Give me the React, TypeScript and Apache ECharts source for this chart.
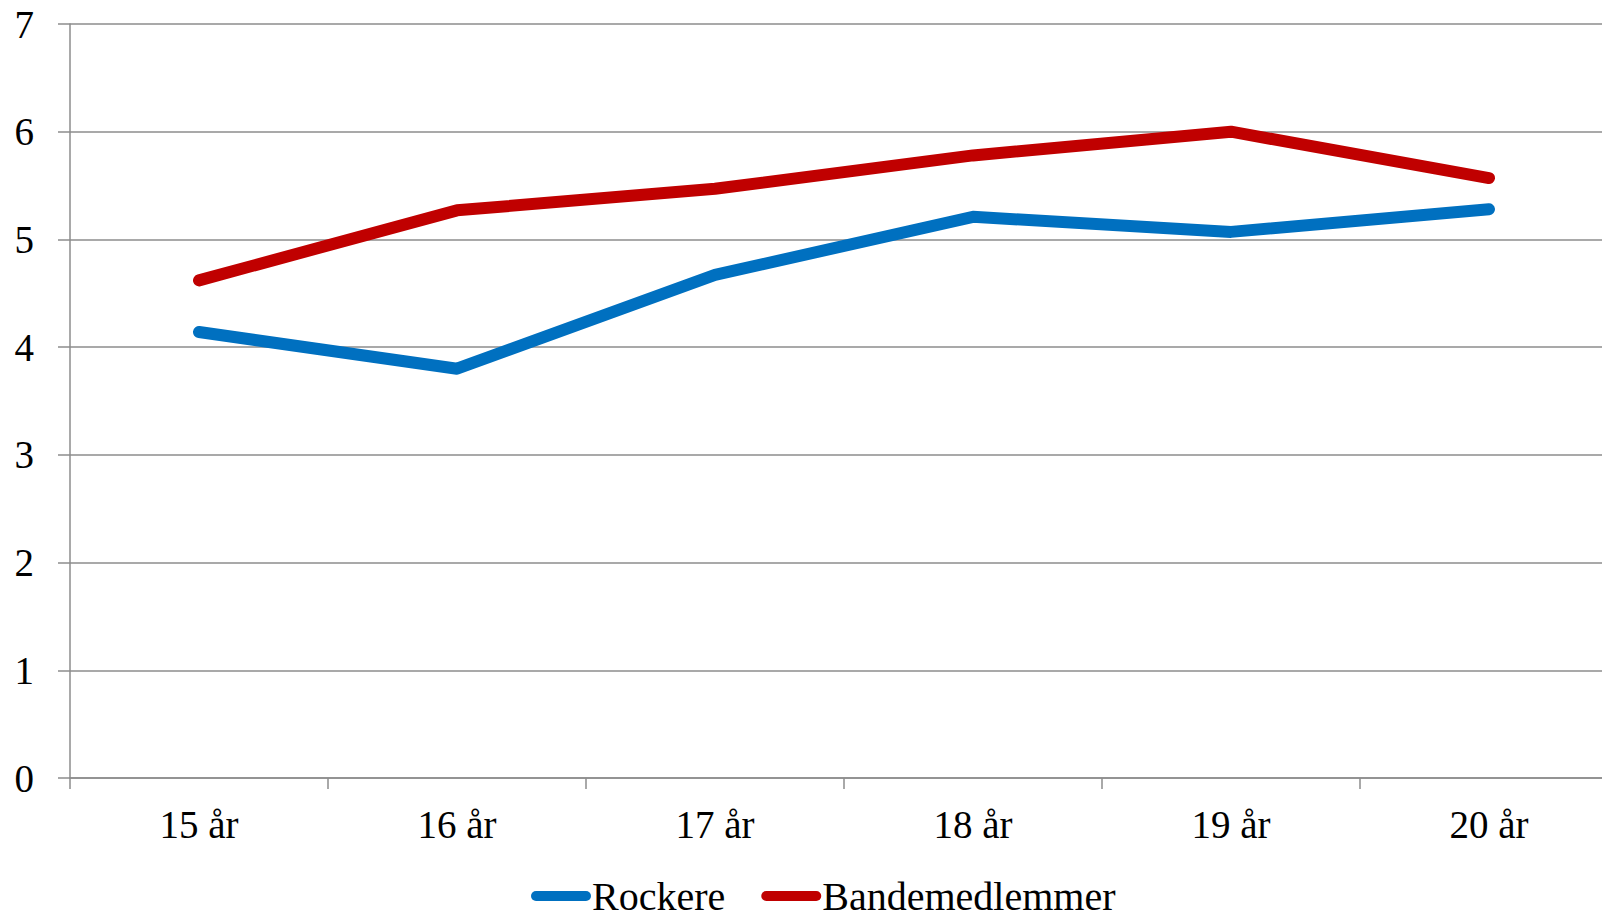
import React, { useEffect, useRef } from "react";
import * as echarts from "echarts";

const categories = ["15 år", "16 år", "17 år", "18 år", "19 år", "20 år"];
const rockere = [4.14, 3.8, 4.67, 5.21, 5.07, 5.28];
const bandemedlemmer = [4.62, 5.27, 5.47, 5.78, 6.0, 5.57];
const yTicks = { min: 0, max: 7, interval: 1 };

const FONT = "Liberation Serif";
const GRID_COLOR = "#8c8c8c";
const ICON = "path://M5,0 H55 A5,5 0 0 1 55,10 H5 A5,5 0 0 1 5,0 Z";

export default function App() {
  const ref = useRef<HTMLDivElement>(null);
  useEffect(() => {
    if (!ref.current) return;
    const chart = echarts.init(ref.current, null, { renderer: "svg" });
    chart.setOption({
      animation: false,
      backgroundColor: "#ffffff",
      grid: { left: 70, top: 24, bottom: 136, right: 2, containLabel: false },
      legend: {
        left: 531,
        top: 876,
        padding: 0,
        itemWidth: 60,
        itemHeight: 11,
        itemGap: 36,
        icon: ICON,
        textStyle: {
          fontFamily: FONT,
          fontSize: 40,
          color: "#000",
          padding: [0, 0, 0, -4],
        },
        data: ["Rockere", "Bandemedlemmer"],
      },
      xAxis: {
        type: "category",
        data: categories,
        boundaryGap: true,
        axisLine: { lineStyle: { color: GRID_COLOR, width: 1.5 } },
        axisTick: { show: true, length: 11, lineStyle: { color: GRID_COLOR, width: 1.5 } },
        axisLabel: { fontFamily: FONT, fontSize: 39, color: "#000", margin: 27 },
      },
      yAxis: {
        type: "value",
        min: yTicks.min,
        max: yTicks.max,
        interval: yTicks.interval,
        axisLine: { show: true, lineStyle: { color: GRID_COLOR, width: 1.5 } },
        axisTick: { show: true, length: 12, lineStyle: { color: GRID_COLOR, width: 1.5 } },
        splitLine: { show: true, lineStyle: { color: GRID_COLOR, width: 1.5 } },
        axisLabel: { fontFamily: FONT, fontSize: 39, color: "#000", margin: 36 },
      },
      series: [
        {
          name: "Rockere",
          type: "line",
          data: rockere,
          symbol: "none",
          color: "#0070C0",
          lineStyle: { color: "#0070C0", width: 12, cap: "round", join: "round" },
        },
        {
          name: "Bandemedlemmer",
          type: "line",
          data: bandemedlemmer,
          symbol: "none",
          color: "#C00000",
          lineStyle: { color: "#C00000", width: 12, cap: "round", join: "round" },
        },
      ],
    });
    return () => chart.dispose();
  }, []);
  return (
    <div
      style={{
        position: "fixed",
        left: 0,
        top: 0,
        width: 1602,
        height: 914,
        overflow: "hidden",
        background: "#fff",
      }}
    >
      <div ref={ref} style={{ width: 1620, height: 914 }} />
    </div>
  );
}
